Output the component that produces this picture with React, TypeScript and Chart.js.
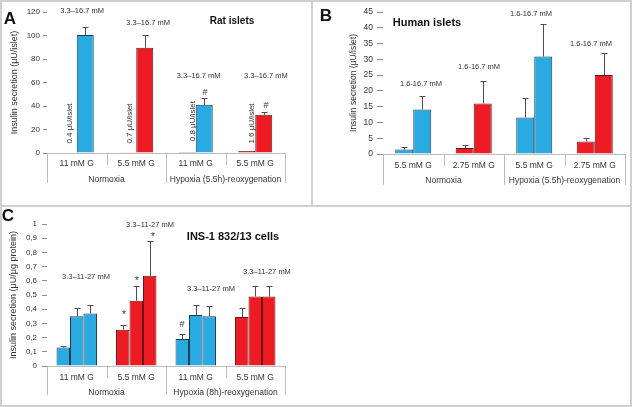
import React, { useEffect, useRef } from 'react';
import { Chart, registerables } from 'chart.js';

Chart.register(...registerables);

const FAMILY = "'Liberation Sans', Arial, Helvetica, sans-serif";
const TEXT = '#333333';
const BLUE = '#29aae1';
const BLUE_EDGE = '#1c3d55';
const RED = '#ed1c24';
const RED_EDGE = '#6b1416';
const AXIS = '#bcbcbc';
const ERR = '#4d4d4d';

// ---------- Panel A: rat islets ----------
const aCategories = ['11 mM G', '5.5 mM G', '11 mM G', '5.5 mM G'];
const aGroups = ['Normoxia', 'Hypoxia (5.5h)-reoxygenation'];
const aColours = ['blue', 'red', 'blue', 'red'];
const aBasal = [0.4, 0.7, 0.8, 1.6];
const aStim = [100.5, 89.5, 41, 32.5];
const aStimErr = [7, 11, 5.5, 2.5];
const aRange = { min: 0, max: 120, step: 20 };

// ---------- Panel B: human islets ----------
const bCategories = ['5.5 mM G', '2.75 mM G', '5.5 mM G', '2.75 mM G'];
const bGroups = ['Normoxia', 'Hypoxia (5.5h)-reoxygenation'];
const bColours = ['blue', 'red', 'blue', 'red'];
const bBasal = [1.4, 1.9, 11.6, 4.0];
const bBasalErr = [0.7, 1.0, 6.0, 1.2];
const bStim = [14.1, 16.0, 30.9, 25.0];
const bStimErr = [4.3, 7.0, 10.4, 6.9];
const bRange = { min: 0, max: 45, step: 5 };

// ---------- Panel C: INS-1 832/13 cells ----------
const cCategories = ['11 mM G', '5.5 mM G', '11 mM G', '5.5 mM G'];
const cGroups = ['Normoxia', 'Hypoxia (8h)-reoxygenation'];
const cColours = ['blue', 'red', 'blue', 'red'];
const c33 = [0.13, 0.255, 0.19, 0.345];
const c33Err = [0.01, 0.035, 0.035, 0.06];
const c11 = [0.35, 0.46, 0.36, 0.49];
const c11Err = [0.06, 0.105, 0.07, 0.075];
const c27 = [0.37, 0.635, 0.35, 0.49];
const c27Err = [0.06, 0.245, 0.07, 0.075];
const cRange = { min: 0, max: 1, step: 0.1 };

interface Note { text: string; x: number; y: number; size: number; bold?: boolean; rotate?: boolean }
interface Series { values: number[]; errors?: number[] }
interface PanelSpec {
  categories: string[]; groups: string[]; colours: string[]; series: Series[];
  range: { min: number; max: number; step: number };
  tickFormat?: (v: number) => string;
  yTitle: string; yTitleSize: number; yTickSize: number; xTickSize: number;
  catPct: number;
  pad: { left: number; right: number; top: number; bottom: number };
  yWidth: number; tickLen: number; tickPad: number; xPad: number; x2Pad: number;
  sepShort: number; sepLong: number;
  notes: Note[]; letter: { text: string; x: number; y: number };
}

const notesA: Note[] = [
  { text: '3.3–16.7 mM', x: 0.09, y: 121, size: 7.5 },
  { text: '3.3–16.7 mM', x: 1.2, y: 110.6, size: 7.5 },
  { text: '3.3–16.7 mM', x: 2.05, y: 65.5, size: 7.5 },
  { text: '3.3–16.7 mM', x: 3.18, y: 65.5, size: 7.5 },
  { text: '#', x: 2.155, y: 51.5, size: 9 },
  { text: '#', x: 3.18, y: 40.5, size: 9 },
  { text: '0.4 μU/islet', x: -0.11, y: 8, size: 8, rotate: true },
  { text: '0.7 μU/islet', x: 0.895, y: 8, size: 8, rotate: true },
  { text: '0.8 μU/islet', x: 1.95, y: 10, size: 8, rotate: true },
  { text: '1.6 μU/islet', x: 2.945, y: 8, size: 8, rotate: true },
  { text: 'Rat islets', x: 2.61, y: 112.3, size: 10, bold: true },
];

const notesB: Note[] = [
  { text: '1.6-16.7 mM', x: 0.128, y: 22.2, size: 7.5 },
  { text: '1.6-16.7 mM', x: 1.087, y: 27.6, size: 7.5 },
  { text: '1.6-16.7 mM', x: 1.946, y: 44.4, size: 7.5 },
  { text: '1.6-16.7 mM', x: 2.938, y: 34.9, size: 7.5 },
  { text: 'Human islets', x: 0.227, y: 41.5, size: 11, bold: true },
];

const notesC: Note[] = [
  { text: '3.3–11-27 mM', x: 0.155, y: 0.627, size: 7.5 },
  { text: '3.3–11-27 mM', x: 1.231, y: 0.993, size: 7.5 },
  { text: '3.3–11-27 mM', x: 2.256, y: 0.542, size: 7.5 },
  { text: '3.3–11-27 mM', x: 3.197, y: 0.662, size: 7.5 },
  { text: '*', x: 0.794, y: 0.355, size: 10 },
  { text: '*', x: 1.013, y: 0.6, size: 10 },
  { text: '*', x: 1.28, y: 0.905, size: 10 },
  { text: '#', x: 1.769, y: 0.289, size: 9 },
  { text: 'INS-1 832/13 cells', x: 2.626, y: 0.908, size: 11, bold: true },
];

const specA: PanelSpec = {
  categories: aCategories, groups: aGroups, colours: aColours,
  series: [{ values: aBasal }, { values: aStim, errors: aStimErr }],
  range: aRange,
  yTitle: 'Insulin secretion (μU/islet)', yTitleSize: 9, yTickSize: 8, xTickSize: 8.5,
  catPct: 0.571,
  pad: { left: 9, right: 27, top: 12, bottom: 21 },
  yWidth: 38, tickLen: 4, tickPad: 3, xPad: 6, x2Pad: 6,
  sepShort: 12, sepLong: 30,
  notes: notesA, letter: { text: 'A', x: 10, y: 19 },
};

const specB: PanelSpec = {
  categories: bCategories, groups: bGroups, colours: bColours,
  series: [{ values: bBasal, errors: bBasalErr }, { values: bStim, errors: bStimErr }],
  range: bRange,
  yTitle: 'Insulin secretion (μU/islet)', yTitleSize: 8.5, yTickSize: 8.5, xTickSize: 8.5,
  catPct: 0.595,
  pad: { left: 37, right: 7, top: 12, bottom: 20 },
  yWidth: 34, tickLen: 6, tickPad: 4, xPad: 7, x2Pad: 6,
  sepShort: 12, sepLong: 31,
  notes: notesB, letter: { text: 'B', x: 14, y: 16 },
};

const specC: PanelSpec = {
  categories: cCategories, groups: cGroups, colours: cColours,
  series: [{ values: c33, errors: c33Err }, { values: c11, errors: c11Err }, { values: c27, errors: c27Err }],
  range: cRange,
  tickFormat: (v: number) => {
    const r = Math.round(v * 10) / 10;
    return r === 0 || r === 1 ? String(r) : r.toFixed(1).replace('.', ',');
  },
  yTitle: 'Insulin secretion (μU/μg protein)', yTitleSize: 9, yTickSize: 8, xTickSize: 8.5,
  catPct: 0.68,
  pad: { left: 8, right: 27, top: 18, bottom: 8 },
  yWidth: 39, tickLen: 5, tickPad: 5, xPad: 7, x2Pad: 6,
  sepShort: 12, sepLong: 29,
  notes: notesC, letter: { text: 'C', x: 8, y: 10 },
};

function buildChart(canvas: HTMLCanvasElement, s: PanelSpec) {
  const fill = s.colours.map((c) => (c === 'blue' ? BLUE : RED));
  const edge = s.colours.map((c) => (c === 'blue' ? BLUE_EDGE : RED_EDGE));

  const decor = {
    id: 'panelDecor',
    afterDatasetsDraw(chart: any) {
      const ctx = chart.ctx;
      const ys = chart.scales.y;
      ctx.save();
      ctx.strokeStyle = ERR;
      ctx.lineWidth = 1;
      chart.data.datasets.forEach((ds: any, di: number) => {
        const errs: number[] | undefined = ds.errors;
        if (!errs) return;
        const meta = chart.getDatasetMeta(di);
        meta.data.forEach((bar: any, i: number) => {
          const e = errs[i];
          if (e == null) return;
          const v = ds.data[i];
          const x = Math.round(bar.x) + 0.5;
          const y0 = ys.getPixelForValue(v);
          const y1 = Math.round(ys.getPixelForValue(v + e)) + 0.5;
          ctx.beginPath();
          ctx.moveTo(x, y0);
          ctx.lineTo(x, y1);
          ctx.moveTo(x - 3, y1);
          ctx.lineTo(x + 3, y1);
          ctx.stroke();
        });
      });
      ctx.restore();
    },
    afterDraw(chart: any) {
      const ctx = chart.ctx;
      const xs = chart.scales.x;
      const ys = chart.scales.y;
      const bottom = chart.chartArea.bottom;
      const n = xs.getLabels().length;
      ctx.save();
      ctx.strokeStyle = AXIS;
      ctx.lineWidth = 1;
      for (let i = 0; i <= n; i++) {
        const px = Math.round(xs.getPixelForValue(i - 0.5)) + 0.5;
        const len = i % 2 === 0 ? s.sepLong : s.sepShort;
        ctx.beginPath();
        ctx.moveTo(px, bottom);
        ctx.lineTo(px, bottom + len);
        ctx.stroke();
      }
      for (const note of s.notes) {
        const px = xs.getPixelForValue(note.x);
        const py = ys.getPixelForValue(note.y);
        ctx.save();
        ctx.font = `${note.bold ? 'bold ' : ''}${note.size}px ${FAMILY}`;
        ctx.fillStyle = note.bold ? '#111111' : TEXT;
        ctx.translate(px, py);
        if (note.rotate) ctx.rotate(-Math.PI / 2);
        ctx.textAlign = note.rotate ? 'left' : 'center';
        ctx.textBaseline = 'middle';
        ctx.fillText(note.text, 0, 0);
        ctx.restore();
      }
      ctx.font = `bold 17px ${FAMILY}`;
      ctx.fillStyle = '#111111';
      ctx.textAlign = 'center';
      ctx.textBaseline = 'middle';
      ctx.fillText(s.letter.text, s.letter.x, s.letter.y);
      ctx.restore();
    },
  };

  const tickFont = { family: FAMILY, size: s.xTickSize };

  return new Chart(canvas, {
    type: 'bar',
    data: {
      labels: s.categories,
      datasets: s.series.map((ser) => ({
        data: ser.values,
        errors: ser.errors,
        backgroundColor: fill,
        borderColor: edge,
        borderWidth: 1,
        borderSkipped: 'start',
        categoryPercentage: s.catPct,
        barPercentage: 1,
      })) as any,
    },
    options: {
      responsive: false,
      animation: false,
      devicePixelRatio: 1,
      layout: { padding: s.pad },
      plugins: { legend: { display: false }, tooltip: { enabled: false }, title: { display: false } },
      scales: {
        x: {
          type: 'category',
          offset: true,
          grid: { display: false, drawTicks: false },
          border: { display: true, color: AXIS, width: 1 },
          ticks: { font: tickFont, color: TEXT, padding: s.xPad, maxRotation: 0, autoSkip: false },
          afterFit: (sc: any) => { sc.height = 16; },
        },
        x2: {
          type: 'category',
          axis: 'x',
          position: 'bottom',
          labels: s.groups,
          offset: true,
          grid: { display: false, drawTicks: false },
          border: { display: false },
          ticks: { font: tickFont, color: TEXT, padding: s.x2Pad, maxRotation: 0, autoSkip: false },
          afterFit: (sc: any) => { sc.height = 16; },
        },
        y: {
          min: s.range.min,
          max: s.range.max,
          ticks: {
            stepSize: s.range.step,
            font: { family: FAMILY, size: s.yTickSize },
            color: TEXT,
            padding: s.tickPad,
            callback: (v: any) => (s.tickFormat ? s.tickFormat(Number(v)) : String(v)),
          },
          grid: { drawOnChartArea: false, drawTicks: true, tickLength: s.tickLen, color: '#8c8c8c' },
          border: { display: false },
          title: {
            display: true,
            text: s.yTitle,
            font: { family: FAMILY, size: s.yTitleSize },
            color: TEXT,
            padding: 0,
          },
          afterFit: (sc: any) => { sc.width = s.yWidth; },
        },
      },
    } as any,
    plugins: [decor],
  });
}

const FRAME = '#d0d0d0';

export default function App() {
  const aRef = useRef<HTMLCanvasElement>(null);
  const bRef = useRef<HTMLCanvasElement>(null);
  const cRef = useRef<HTMLCanvasElement>(null);

  useEffect(() => {
    const charts = [
      buildChart(aRef.current!, specA),
      buildChart(bRef.current!, specB),
      buildChart(cRef.current!, specC),
    ];
    return () => charts.forEach((c) => c.destroy());
  }, []);

  return (
    <div style={{ position: 'absolute', left: 0, top: 0, width: 632, height: 407, background: '#ffffff', overflow: 'hidden' }}>
      <div style={{ position: 'absolute', left: 0, top: 0, width: 632, height: 407, boxSizing: 'border-box', border: `2px solid ${FRAME}` }} />
      <div style={{ position: 'absolute', left: 0, top: 205, width: 632, height: 2, background: FRAME }} />
      <div style={{ position: 'absolute', left: 311, top: 0, width: 2, height: 206, background: FRAME }} />
      <canvas ref={aRef} width={312} height={206} style={{ position: 'absolute', left: 0, top: 0 }} />
      <canvas ref={bRef} width={320} height={206} style={{ position: 'absolute', left: 312, top: 0 }} />
      <canvas ref={cRef} width={312} height={200} style={{ position: 'absolute', left: 0, top: 206 }} />
    </div>
  );
}
